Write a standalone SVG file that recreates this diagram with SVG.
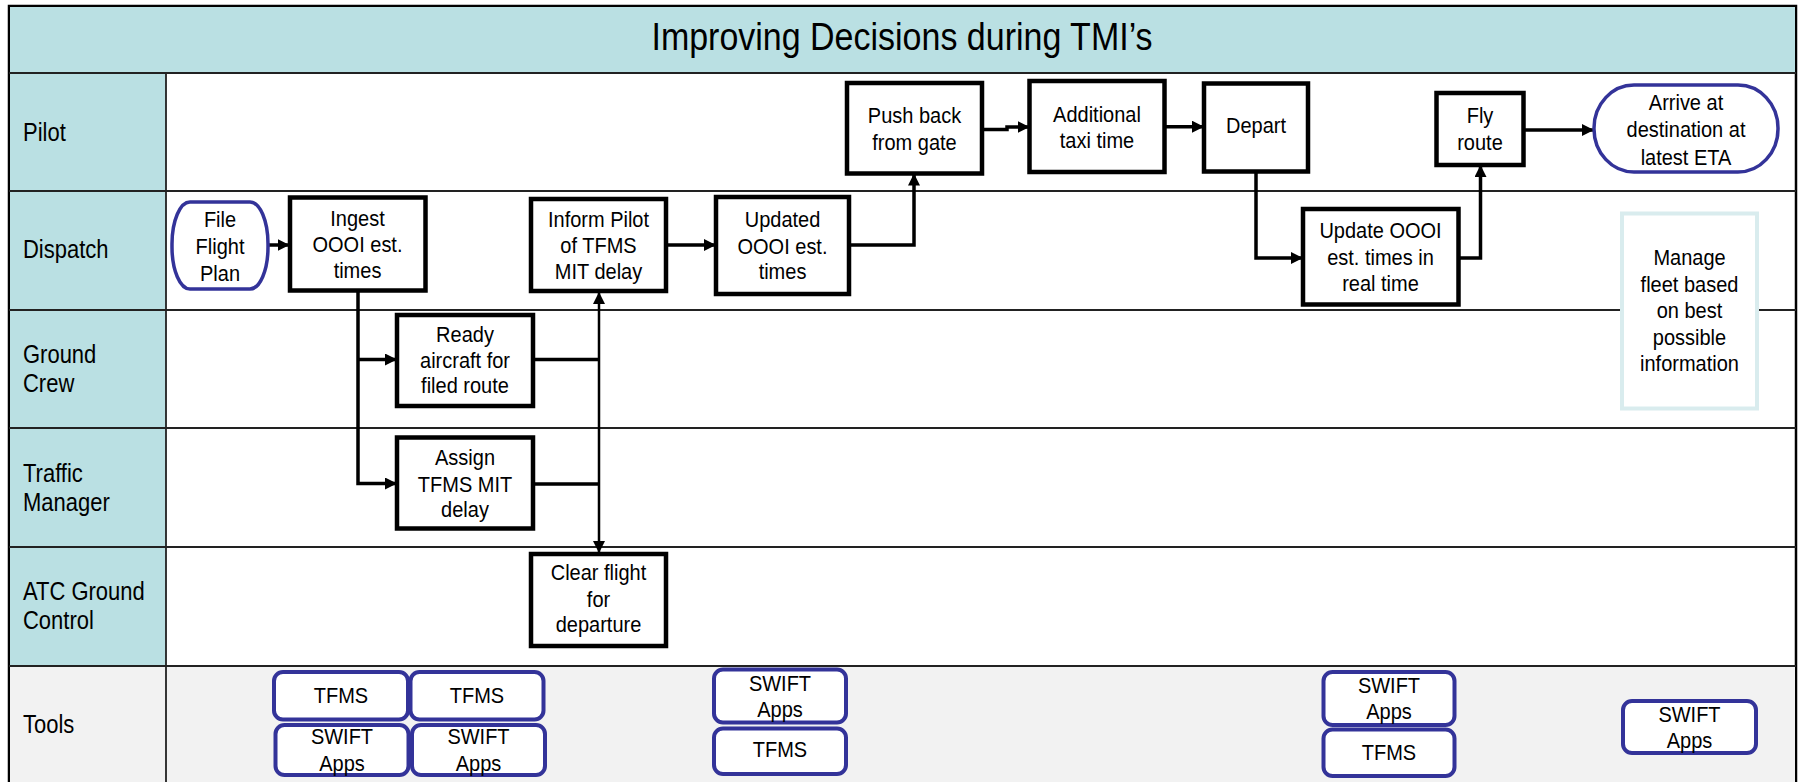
<svg xmlns="http://www.w3.org/2000/svg" width="1804" height="782" viewBox="0 0 1804 782">
<style>
.t{font-family:"Liberation Sans",Arial,sans-serif;font-size:20px;fill:#000;text-anchor:middle}
.lab{font-family:"Liberation Sans",Arial,sans-serif;font-size:22px;fill:#000}
.title{font-family:"Liberation Sans",Arial,sans-serif;font-size:34px;fill:#000;text-anchor:middle}
.box{fill:#fff;stroke:#000;stroke-width:4.5}
.term{fill:#fff;stroke:#333399;stroke-width:3.5}
.tool{fill:#fff;stroke:#333399;stroke-width:4}
.note{fill:#fff;stroke:#D9ECEE;stroke-width:4}
.lane{stroke:#222;stroke-width:1.8;fill:none}
.c{fill:none;stroke:#000;stroke-width:3.5}
.cn{fill:none;stroke:#000;stroke-width:2.5}
</style>
<defs>
<marker id="ah" markerUnits="userSpaceOnUse" markerWidth="13" markerHeight="12" refX="12" refY="6" orient="auto-start-reverse" viewBox="0 0 13 12">
<path d="M0,0 L12,6 L0,12 z" fill="#000"/>
</marker>
</defs>
<g id="frame">
<rect x="9" y="6" width="1787" height="790" fill="#fff" stroke="#000" stroke-width="2.5"/>
<rect x="10" y="7" width="1785" height="66" fill="#BAE0E3"/>
<rect x="10" y="73" width="156" height="593" fill="#BAE0E3"/>
<rect x="10" y="666" width="1785" height="120" fill="#F2F2F2"/>
<path class="lane" d="M9,73H1796M9,191H1796M9,310H1796M9,428H1796M9,547H1796M9,666H1796M166,73V782"/>
<text class="title" transform="translate(902,50) scale(1,1.12)">Improving Decisions during TMI’s</text>
</g>
<g id="lanes">
<text class="lab" transform="translate(23,141) scale(1,1.15)">Pilot</text>
<text class="lab" transform="translate(23,258) scale(1,1.15)">Dispatch</text>
<text class="lab" transform="translate(23,363) scale(1,1.15)">Ground</text>
<text class="lab" transform="translate(23,392) scale(1,1.15)">Crew</text>
<text class="lab" transform="translate(23,482) scale(1,1.15)">Traffic</text>
<text class="lab" transform="translate(23,511) scale(1,1.15)">Manager</text>
<text class="lab" transform="translate(23,600) scale(1,1.15)">ATC Ground</text>
<text class="lab" transform="translate(23,629) scale(1,1.15)">Control</text>
<text class="lab" transform="translate(23,733) scale(1,1.15)">Tools</text>
</g>
<g id="connectors">
<path class="c" d="M268,245H289.5" marker-end="url(#ah)"/>
<path class="c" d="M358,291V483.5H397" marker-end="url(#ah)"/>
<path class="c" d="M358,359.5H397" marker-end="url(#ah)"/>
<path class="c" d="M533,359.5H599M533,484H599"/>
<path class="cn" d="M599,292V553" marker-start="url(#ah)" marker-end="url(#ah)"/>
<path class="c" d="M666,245H716" marker-end="url(#ah)"/>
<path class="c" d="M849,245H914V173.5" marker-end="url(#ah)"/>
<path class="c" d="M982,129.5H1007V127H1029.5" marker-end="url(#ah)"/>
<path class="c" d="M1164.5,126.7H1204" marker-end="url(#ah)"/>
<path class="c" d="M1256,172V258H1303" marker-end="url(#ah)"/>
<path class="c" d="M1458.5,258H1480.5V165" marker-end="url(#ah)"/>
<path class="c" d="M1524,130H1594" marker-end="url(#ah)"/>
</g>
<g id="file">
<rect class="term" x="172" y="202" width="96" height="87" rx="18" ry="42"/>
<text class="t" transform="translate(220,227) scale(1,1.12)">File</text><text class="t" transform="translate(220,254) scale(1,1.12)">Flight</text><text class="t" transform="translate(220,281) scale(1,1.12)">Plan</text>
</g>
<g id="ingest">
<rect class="box" x="290" y="197.5" width="135.5" height="93"/>
<text class="t" transform="translate(357.5,226) scale(1,1.12)">Ingest</text><text class="t" transform="translate(357.5,252) scale(1,1.12)">OOOI est.</text><text class="t" transform="translate(357.5,278) scale(1,1.12)">times</text>
</g>
<g id="inform">
<rect class="box" x="531" y="199" width="135" height="92"/>
<text class="t" transform="translate(598.5,226.5) scale(1,1.12)">Inform Pilot</text><text class="t" transform="translate(598.5,253) scale(1,1.12)">of TFMS</text><text class="t" transform="translate(598.5,278.5) scale(1,1.12)">MIT delay</text>
</g>
<g id="updated">
<rect class="box" x="716" y="197" width="133" height="97"/>
<text class="t" transform="translate(782.5,226.5) scale(1,1.12)">Updated</text><text class="t" transform="translate(782.5,254) scale(1,1.12)">OOOI est.</text><text class="t" transform="translate(782.5,278.5) scale(1,1.12)">times</text>
</g>
<g id="pushback">
<rect class="box" x="847" y="83" width="135" height="90.5"/>
<text class="t" transform="translate(914.5,122.7) scale(1,1.12)">Push back</text><text class="t" transform="translate(914.5,150) scale(1,1.12)">from gate</text>
</g>
<g id="additional">
<rect class="box" x="1029.5" y="81" width="135" height="91"/>
<text class="t" transform="translate(1097,121.7) scale(1,1.12)">Additional</text><text class="t" transform="translate(1097,147.7) scale(1,1.12)">taxi time</text>
</g>
<g id="depart">
<rect class="box" x="1204" y="83.5" width="104" height="88"/>
<text class="t" transform="translate(1256,133) scale(1,1.12)">Depart</text>
</g>
<g id="fly">
<rect class="box" x="1436.5" y="93" width="87" height="72"/>
<text class="t" transform="translate(1480,123) scale(1,1.12)">Fly</text><text class="t" transform="translate(1480,150) scale(1,1.12)">route</text>
</g>
<g id="arrive">
<rect class="term" x="1594" y="85" width="184" height="87" rx="40" ry="43"/>
<text class="t" transform="translate(1686,109.5) scale(1,1.12)">Arrive at</text><text class="t" transform="translate(1686,137) scale(1,1.12)">destination at</text><text class="t" transform="translate(1686,164.5) scale(1,1.12)">latest ETA</text>
</g>
<g id="update">
<rect class="box" x="1303" y="209" width="155.5" height="95.5"/>
<text class="t" transform="translate(1380.5,237.5) scale(1,1.12)">Update OOOI</text><text class="t" transform="translate(1380.5,265) scale(1,1.12)">est. times in</text><text class="t" transform="translate(1380.5,290.7) scale(1,1.12)">real time</text>
</g>
<g id="manage">
<rect class="note" x="1622" y="213.5" width="135" height="195"/>
<text class="t" transform="translate(1689.5,265) scale(1,1.12)">Manage</text><text class="t" transform="translate(1689.5,291.5) scale(1,1.12)">fleet based</text><text class="t" transform="translate(1689.5,318) scale(1,1.12)">on best</text><text class="t" transform="translate(1689.5,344.5) scale(1,1.12)">possible</text><text class="t" transform="translate(1689.5,371) scale(1,1.12)">information</text>
</g>
<g id="ready">
<rect class="box" x="397" y="315" width="136" height="91"/>
<text class="t" transform="translate(465,341.7) scale(1,1.12)">Ready</text><text class="t" transform="translate(465,368.3) scale(1,1.12)">aircraft for</text><text class="t" transform="translate(465,393.3) scale(1,1.12)">filed route</text>
</g>
<g id="assign">
<rect class="box" x="397" y="437.5" width="136" height="91"/>
<text class="t" transform="translate(465,465) scale(1,1.12)">Assign</text><text class="t" transform="translate(465,492) scale(1,1.12)">TFMS MIT</text><text class="t" transform="translate(465,517) scale(1,1.12)">delay</text>
</g>
<g id="clear">
<rect class="box" x="531" y="554" width="135" height="92"/>
<text class="t" transform="translate(598.5,580) scale(1,1.12)">Clear flight</text><text class="t" transform="translate(598.5,606.5) scale(1,1.12)">for</text><text class="t" transform="translate(598.5,632) scale(1,1.12)">departure</text>
</g>
<g id="tool1"><rect class="tool" x="274" y="672" width="134" height="47.5" rx="9"/><text class="t" transform="translate(341,702.7) scale(1,1.12)">TFMS</text></g>
<g id="tool2"><rect class="tool" x="275.5" y="725" width="133" height="50" rx="9"/><text class="t" transform="translate(342,744.3) scale(1,1.12)">SWIFT</text><text class="t" transform="translate(342,770.7) scale(1,1.12)">Apps</text></g>
<g id="tool3"><rect class="tool" x="410.5" y="672" width="133" height="47.5" rx="9"/><text class="t" transform="translate(477,702.7) scale(1,1.12)">TFMS</text></g>
<g id="tool4"><rect class="tool" x="412" y="725" width="133" height="50" rx="9"/><text class="t" transform="translate(478.5,744.3) scale(1,1.12)">SWIFT</text><text class="t" transform="translate(478.5,770.7) scale(1,1.12)">Apps</text></g>
<g id="tool5"><rect class="tool" x="714" y="669.5" width="132" height="53" rx="9"/><text class="t" transform="translate(780,690.7) scale(1,1.12)">SWIFT</text><text class="t" transform="translate(780,716.7) scale(1,1.12)">Apps</text></g>
<g id="tool6"><rect class="tool" x="714" y="728.5" width="132" height="45.5" rx="9"/><text class="t" transform="translate(780,757.3) scale(1,1.12)">TFMS</text></g>
<g id="tool7"><rect class="tool" x="1323.5" y="672" width="131" height="53" rx="9"/><text class="t" transform="translate(1389,692.7) scale(1,1.12)">SWIFT</text><text class="t" transform="translate(1389,719.3) scale(1,1.12)">Apps</text></g>
<g id="tool8"><rect class="tool" x="1323.5" y="729.5" width="131" height="46.5" rx="9"/><text class="t" transform="translate(1389,760) scale(1,1.12)">TFMS</text></g>
<g id="tool9"><rect class="tool" x="1623" y="701" width="133" height="52" rx="9"/><text class="t" transform="translate(1689.5,721.7) scale(1,1.12)">SWIFT</text><text class="t" transform="translate(1689.5,748.3) scale(1,1.12)">Apps</text></g>
</svg>
